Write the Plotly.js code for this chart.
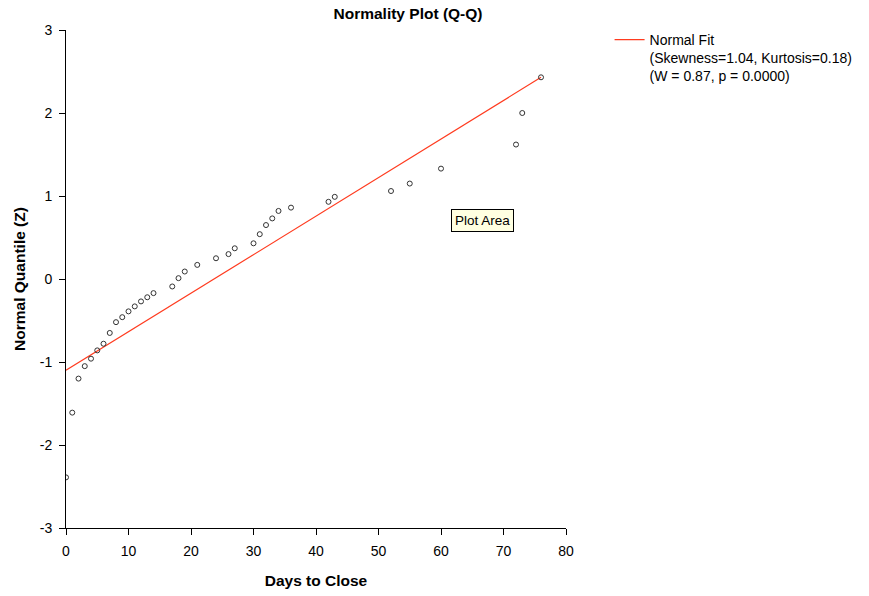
<!DOCTYPE html>
<html>
<head>
<meta charset="utf-8">
<script src="https://cdn.plot.ly/plotly-3.0.1.min.js"></script>
<style>html,body{margin:0;padding:0;background:#fff;}#chart{width:869px;height:596px;}</style>
</head>
<body>
<div id="chart"></div>
<script>
// Observed data: days to close vs normal quantile
var daysToClose = [0, 1, 2, 3, 4, 5, 6, 7, 8, 9, 10, 11, 12, 13, 14, 17, 18, 19, 21, 24, 26, 27, 30, 31, 32, 33, 34, 36, 42, 43, 52, 55, 60, 72, 73, 76];
var normalQuantile = [-2.39, -1.61, -1.20, -1.05, -0.96, -0.86, -0.78, -0.65, -0.52, -0.46, -0.39, -0.33, -0.27, -0.22, -0.17, -0.09, 0.01, 0.09, 0.17, 0.25, 0.30, 0.37, 0.43, 0.54, 0.65, 0.73, 0.82, 0.86, 0.93, 0.99, 1.06, 1.15, 1.33, 1.62, 2.00, 2.43];
// Normal fit line
var fitX = [0, 76];
var fitY = [-1.10, 2.43];
var fitName = 'Normal Fit<br>(Skewness=1.04, Kurtosis=0.18)<br>(W = 0.87, p = 0.0000)';
var xTicks = [0, 10, 20, 30, 40, 50, 60, 70, 80];
var yTicks = [-3, -2, -1, 0, 1, 2, 3];

var font = 'Liberation Sans, Arial, sans-serif';
var traces = [
  {x: fitX, y: fitY, mode: 'lines', name: fitName, line: {color: '#FF3B1F', width: 1.2}, hoverinfo: 'skip'},
  {x: daysToClose, y: normalQuantile, mode: 'markers', showlegend: false,
   marker: {symbol: 'circle-open', size: 5, color: '#333', line: {width: 1, color: '#333'}}}
];
var axisCommon = {showgrid: false, zeroline: false, showline: true, linecolor: '#000', linewidth: 1,
  ticks: 'outside', ticklen: 6, tickcolor: '#000', tickfont: {family: font, size: 14, color: '#000'}};
var layout = {
  width: 869, height: 596,
  margin: {l: 66, r: 302, t: 30, b: 68},
  paper_bgcolor: '#fff', plot_bgcolor: '#fff',
  font: {family: font, color: '#000'},
  title: {text: '<b>Normality Plot (Q-Q)</b>', font: {family: font, size: 15.5, color: '#000'},
          xref: 'container', x: 0.4695, xanchor: 'center', yref: 'container', y: 0.977, yanchor: 'middle'},
  xaxis: Object.assign({}, axisCommon, {range: [0, 80], tickvals: xTicks, ticktext: xTicks.map(String), ticklabelstandoff: 4,
    title: {text: '<b>Days to Close</b>', font: {family: font, size: 15.5, color: '#000'}, standoff: 17}}),
  yaxis: Object.assign({}, axisCommon, {range: [-3, 3], tickvals: yTicks, ticktext: yTicks.map(String), ticklabelstandoff: 4,
    title: {text: '<b>Normal Quantile (Z)</b>', font: {family: font, size: 15.5, color: '#000'}, standoff: 10}}),
  legend: {x: 1.085, xanchor: 'left', y: 1.012, yanchor: 'top', xref: 'paper', yref: 'paper', valign: 'top',
    font: {family: font, size: 14, color: '#000'}, itemwidth: 30, bgcolor: 'rgba(0,0,0,0)'},
  annotations: [{xref: 'x', yref: 'y', x: 66.6, y: 0.70, text: 'Plot Area', showarrow: false,
    font: {family: font, size: 13.5, color: '#000'}, bgcolor: '#FFFFE1', bordercolor: '#000', borderwidth: 1, borderpad: 3}]
};
Plotly.newPlot('chart', traces, layout, {displayModeBar: false, staticPlot: true});
</script>
</body>
</html>
